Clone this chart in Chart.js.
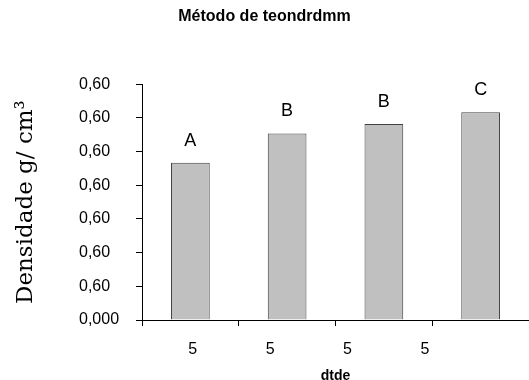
<!DOCTYPE html>
<html>
<head>
<meta charset="utf-8">
<script src="https://cdn.jsdelivr.net/npm/chart.js@4.4.0/dist/chart.umd.min.js"></script>
<style>
  html, body { margin: 0; padding: 0; background: #fff; }
  #wrap { width: 529px; height: 380px; }
</style>
</head>
<body>
<div id="wrap"><canvas id="myChart"></canvas></div>
<script>
// data
const categories = ["1", "2", "3", "4"];
const density = [0.467, 0.554, 0.582, 0.617];
const groupLetters = ["A", "B", "B", "C"];
const yTickLabels = ["0,000", "0,60", "0,60", "0,60", "0,60", "0,60", "0,60", "0,60"];
const xTickLabels = ["5", "5", "5", "5", ""];

const sans = '"Liberation Sans", Arial, sans-serif';
const serif = '"DejaVu Serif", serif';

// letters above each bar
const letterPlugin = {
	id: "letters",
	afterDatasetsDraw(chart) {
		const ctx = chart.ctx;
		const meta = chart.getDatasetMeta(0);
		ctx.save();
		ctx.font = "18px " + sans;
		ctx.fillStyle = "#000";
		ctx.textAlign = "center";
		ctx.textBaseline = "middle";
		meta.data.forEach((bar, i) => {
			ctx.fillText(groupLetters[i], bar.x, bar.y - 22);
		});
		ctx.restore();
	},
};

new Chart(document.getElementById("myChart"), {
	type: "bar",
	data: {
		labels: categories,
		datasets: [
			{
				data: density,
				backgroundColor: "#c0c0c0",
				borderColor: "#404040",
				borderWidth: 1,
				barPercentage: 0.4,
				categoryPercentage: 1,
			},
		],
	},
	options: {
		responsive: true,
		maintainAspectRatio: false,
		animation: false,
		layout: { padding: 0 },
		plugins: {
			legend: { display: false },
			tooltip: { enabled: false },
			title: {
				display: true,
				text: "Método de teondrdmm",
				color: "#000",
				font: { family: sans, size: 16, weight: "bold" },
				padding: { top: 7, bottom: 58 },
			},
		},
		scales: {
			x: {
				weight: 0,
				offset: true,
				grid: { drawOnChartArea: false, offset: true, tickLength: 6, color: "#000" },
				border: { color: "#000" },
				ticks: { display: false },
				afterFit: (s) => { s.height = 6; },
			},
			x2: {
				type: "category",
				labels: xTickLabels,
				position: "bottom",
				weight: 1,
				offset: true,
				grid: { display: false, drawTicks: false },
				border: { display: false },
				ticks: {
					labelOffset: 12,
					padding: 14,
					color: "#000",
					font: { family: sans, size: 16 },
					maxRotation: 0,
					autoSkip: false,
				},
				title: {
					display: true,
					text: "dtde",
					color: "#000",
					font: { family: sans, size: 14, weight: "bold" },
					padding: { top: 0, bottom: -5 },
				},
				afterFit: (s) => { s.height = 54; },
			},
			y: {
				min: 0,
				max: 0.7,
				weight: 0,
				ticks: {
					stepSize: 0.1,
					callback: (v, i) => yTickLabels[i],
					crossAlign: "far",
					color: "#000",
					font: { family: sans, size: 16 },
				},
				grid: { drawOnChartArea: false, tickLength: 6, color: "#000" },
				border: { color: "#000" },
				afterFit: (s) => { s.width = 63; },
			},
			y2: {
				type: "linear",
				position: "left",
				weight: 1,
				grid: { display: false, drawTicks: false },
				border: { display: false },
				ticks: { display: false },
				title: {
					display: true,
					text: "Densidade g/ cm³",
					color: "#000",
					font: { family: serif, size: 23 },
					padding: { top: 12, bottom: 0 },
				},
				afterFit: (s) => { s.width = 79; },
			},
		},
	},
	plugins: [letterPlugin],
});
</script>
</body>
</html>
